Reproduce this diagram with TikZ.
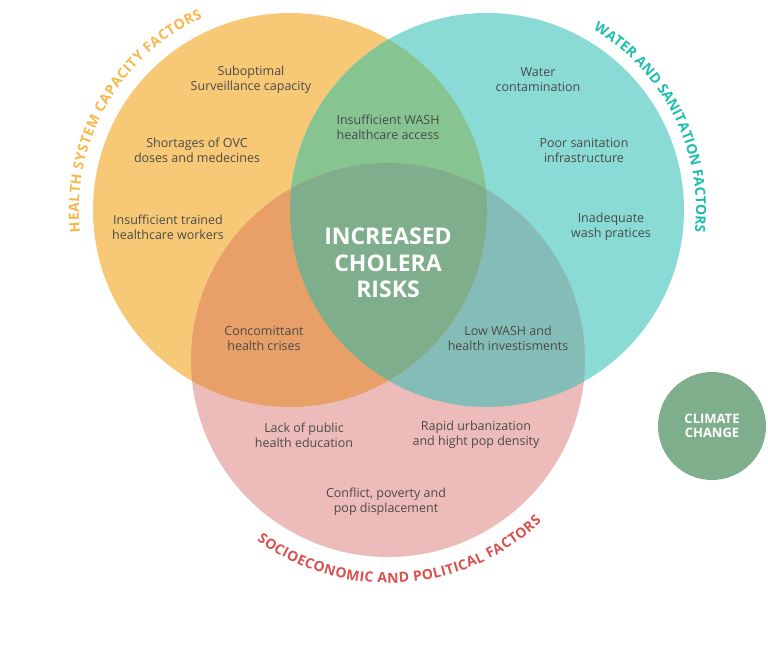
\documentclass[tikz,border=0pt]{standalone}
\usepackage{fontspec}
\setmainfont{Open Sans}
\usepackage{xcolor}
\usepackage{tikz}
\usetikzlibrary{decorations.text}

\definecolor{hsyellow}{HTML}{F7C977}
\definecolor{wsteal}{HTML}{8ADBD5}
\definecolor{sepink}{HTML}{EDBCBA}
\definecolor{hswsgreen}{HTML}{86C492}
\definecolor{hsseorange}{HTML}{E9A068}
\definecolor{wsseteal}{HTML}{84BDB7}
\definecolor{riskgreen}{HTML}{7FAE8C}
\definecolor{hslabel}{HTML}{F8B74C}
\definecolor{wslabel}{HTML}{1FBDB0}
\definecolor{selabel}{HTML}{D9514F}
\definecolor{factorgray}{HTML}{4A4A48}

\begin{document}
\begin{tikzpicture}[x=1pt, y=1pt,
    factor/.style={align=center, text=factorgray, inner sep=0pt,
        font=\fontsize{12.5}{15}\selectfont},
    risk/.style={align=center, text=white, inner sep=0pt,
        font=\fontsize{23}{26.5}\selectfont\bfseries}]
    \useasboundingbox (0,0) rectangle (768,659);
    \coordinate (hs) at (290,449);
    \coordinate (ws) at (487,449);
    \coordinate (se) at (388,299);
    \fill[hsyellow] (hs) circle[radius=197];
    \fill[wsteal] (ws) circle[radius=197];
    \fill[sepink] (se) circle[radius=197];
    \begin{scope}
        \clip (ws) circle[radius=197];
        \fill[wsseteal] (se) circle[radius=197];
    \end{scope}
    \begin{scope}
        \clip (hs) circle[radius=197];
        \fill[hswsgreen] (ws) circle[radius=197];
        \fill[hsseorange] (se) circle[radius=197];
        \clip (ws) circle[radius=197];
        \fill[riskgreen] (se) circle[radius=197];
    \end{scope}

    \path[decorate, decoration={text along path, text align=fit to path,
        text={|\fontsize{14}{14}\selectfont\bfseries\color{hslabel}|HEALTH SYSTEM CAPACITY FACTORS}}]
        (hs) ++(186:211) arc[start angle=186, end angle=114.5, radius=211];
    \path[decorate, decoration={text along path, text align=fit to path,
        text={|\fontsize{14}{14}\selectfont\bfseries\color{wslabel}|WATER AND SANITATION FACTORS}}]
        (ws) ++(59.5:209) arc[start angle=59.5, end angle=-5.5, radius=209];
    \path[decorate, decoration={text along path, text align=fit to path,
        text={|\fontsize{14}{14}\selectfont\bfseries\color{selabel}|SOCIOECONOMIC AND POLITICAL FACTORS}}]
        (se) ++(-126:223) arc[start angle=-126, end angle=-46.5, radius=223];

    \node[factor] (surveillance) at (251,579) {Suboptimal\\Surveillance capacity};
    \node[factor] (shortages) at (197,509) {Shortages of OVC\\doses and medecines};
    \node[factor] (workers) at (168,432) {Insufficient trained\\healthcare workers};
    \node[factor] (access) at (388,532) {Insufficient WASH\\healthcare access};
    \node[factor] (water) at (538,579) {Water\\contamination};
    \node[factor] (sanitation) at (584,509) {Poor sanitation\\infrastructure};
    \node[factor] (practices) at (611,432) {Inadequate\\wash pratices};
    \node[risk] (risks) at (388,396) {INCREASED\\CHOLERA\\RISKS};
    \node[factor] (crises) at (264,321) {Concomittant\\health crises};
    \node[factor] (investments) at (508,321) {Low WASH and\\health investisments};
    \node[factor] (education) at (304,224) {Lack of public\\health education};
    \node[factor] (density) at (476,224) {Rapid urbanization\\and hight pop density};
    \node[factor] (conflict) at (386,157) {Conflict, poverty and\\pop displacement};

    \node[circle, fill=riskgreen, minimum size=108, inner sep=0pt, align=center,
        text=white, font=\fontsize{13}{14}\selectfont\bfseries] (climate) at (712,233)
        {CLIMATE\\CHANGE};
\end{tikzpicture}
\end{document}
